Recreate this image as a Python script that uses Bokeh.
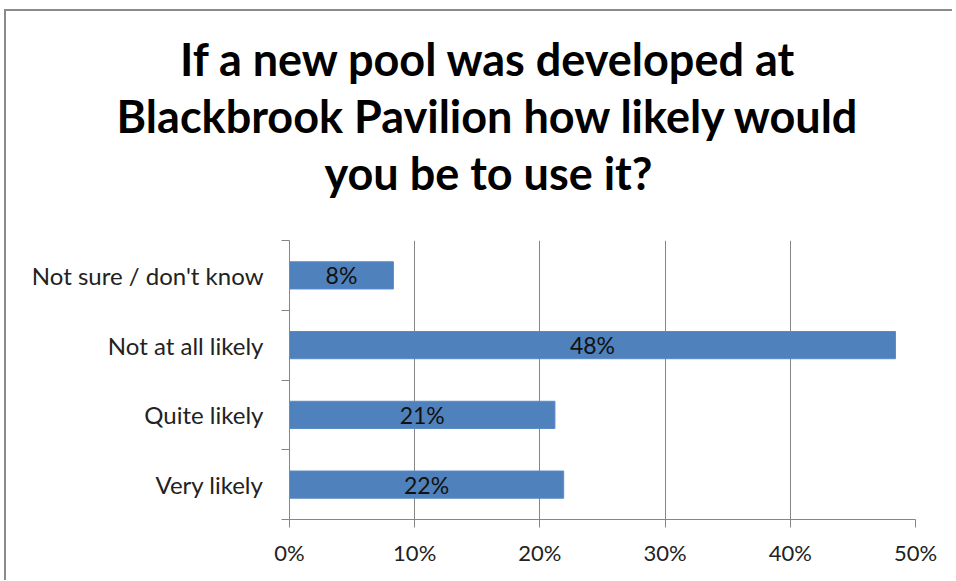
from bokeh.plotting import figure
from bokeh.layouts import column
from bokeh.models import (Range1d, FixedTicker, NumeralTickFormatter, ColumnDataSource,
                          LabelSet)
from bokeh.core.properties import value
from bokeh.embed import file_html
from bokeh.resources import INLINE

categories = ["Very likely", "Quite likely", "Not at all likely", "Not sure / don't know"]
values = [0.219, 0.212, 0.484, 0.083]
value_labels = ["22%", "21%", "48%", "8%"]
x_ticks = [0, 0.1, 0.2, 0.3, 0.4, 0.5]
title_lines = ["If a new pool was developed at", "Blackbrook Pavilion how likely would",
               "you be to use it?"]

FONT = "Lato"
BAR = "#4F81BD"
GRAY = "#868686"
W = 946
TITLE_H = 225

# ---- title strip (its own small figure, pixel coordinates, y downward)
tf = figure(width=W, height=TITLE_H, output_backend="svg", toolbar_location=None,
            x_range=Range1d(0, W), y_range=Range1d(TITLE_H, 0),
            min_border=0, outline_line_color=None)
tf.frame_align = False
tf.axis.visible = False
tf.grid.visible = False
tf.styles = {"overflow": "hidden"}
title_x = [482] * len(title_lines)
title_y = [47 + 57 * i for i in range(len(title_lines))]
tf.text(x=title_x, y=title_y, text=title_lines, text_align="center",
        text_baseline="alphabetic", text_font=value(FONT), text_font_size=value("45px"),
        text_font_style="bold", text_color="#000000")

# ---- bar chart
pos = [i + 0.5 for i in range(len(categories))]
src = ColumnDataSource(dict(y=pos, v=values, mid=[v / 2 for v in values], lab=value_labels))

p = figure(width=W, height=344, output_backend="svg", toolbar_location=None,
           x_range=Range1d(0, 0.5), y_range=Range1d(0, len(categories)),
           min_border_left=283, min_border_right=37, min_border_top=4, min_border_bottom=61)
p.frame_align = False
p.outline_line_color = None
p.styles = {"overflow": "hidden"}

p.hbar(y="y", right="v", left=0, height=0.39, source=src, fill_color=BAR,
       line_color="#5a8ac6", line_width=1)
p.add_layout(LabelSet(x="mid", y="y", text="lab", source=src, text_align="center",
                      text_baseline="middle", text_font=value(FONT), text_font_size="23px",
                      text_color="#111111"))

xa = p.xaxis[0]
xa.ticker = FixedTicker(ticks=x_ticks)
xa.formatter = NumeralTickFormatter(format="0%")
xa.major_tick_out = 8
xa.major_tick_in = 0
xa.minor_tick_line_color = None
xa.axis_line_color = GRAY
xa.major_tick_line_color = GRAY
xa.major_label_text_font = FONT
xa.major_label_text_font_size = "22px"
xa.major_label_text_color = "#222222"
xa.major_label_standoff = 11

ya = p.yaxis[0]
ya.ticker = FixedTicker(ticks=pos, minor_ticks=list(range(len(categories) + 1)))
ya.major_label_overrides = {pv: c for pv, c in zip(pos, categories)}
ya.major_tick_out = 0
ya.major_tick_in = 0
ya.minor_tick_out = 8
ya.minor_tick_in = 0
ya.minor_tick_line_color = GRAY
ya.axis_line_color = GRAY
ya.major_label_text_font = FONT
ya.major_label_text_font_size = "24px"
ya.major_label_text_color = "#222222"
ya.major_label_standoff = 18

p.ygrid.grid_line_color = None
p.xgrid.ticker = FixedTicker(ticks=x_ticks)
p.xgrid.grid_line_color = GRAY

layout = column(tf, p, spacing=0)
layout.styles = {"border-top": "2px solid #8a8a8a", "border-left": "2px solid #8a8a8a",
                 "margin-left": "4px", "margin-top": "9px"}

page_template = """
{% block postamble %}<style>html, body { overflow: hidden; }</style>{% endblock %}
"""

open("out.html", "w").write(file_html(layout, INLINE, template=page_template))
